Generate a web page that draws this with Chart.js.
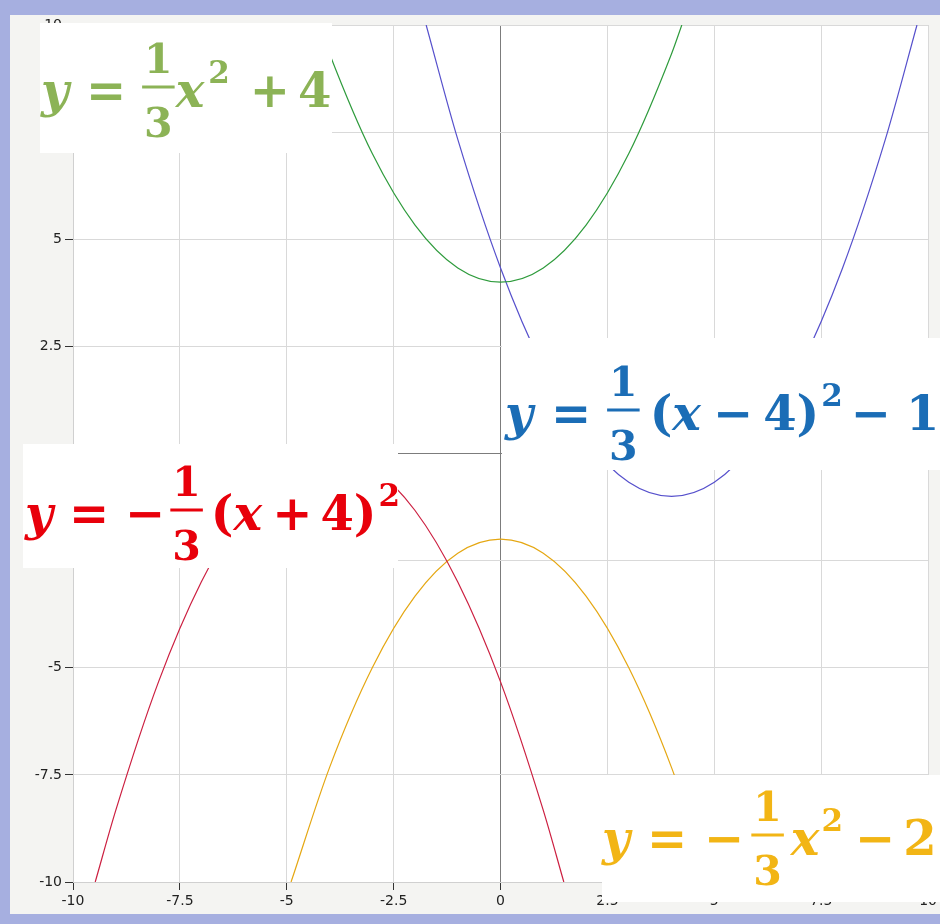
<!DOCTYPE html>
<html>
<head>
<meta charset="utf-8">
<script src="https://cdn.jsdelivr.net/npm/chart.js@4.4.0/dist/chart.umd.min.js"></script>
<style>
  html, body { margin: 0; padding: 0; background: #a6afe0; }
  #c { display: block; }
</style>
</head>
<body>
<canvas id="c" width="940" height="924"></canvas>
<script>
// axis ticks
var tickValues = [-10, -7.5, -5, -2.5, 0, 2.5, 5, 7.5, 10];
var tickLabels = ['-10', '-7.5', '-5', '-2.5', '0', '2.5', '5', '7.5', '10'];

// y = 1/3 x^2 + 4  (green)
var greenX = [-4.24, -4, -3, -2, -1, 0, 1, 2, 3, 4, 4.24];
var greenY = [10, 9.33, 7, 5.33, 4.33, 4, 4.33, 5.33, 7, 9.33, 10];

// y = 1/3 (x-4)^2 - 1  (blue)
var blueX = [-1.74, -1, 0, 1, 2, 3, 4, 5, 6, 7, 8, 9, 9.74];
var blueY = [10, 7.33, 4.33, 2, 0.33, -0.67, -1, -0.67, 0.33, 2, 4.33, 7.33, 10];

// y = -1/3 (x+4)^2  (red)
var redX = [-9.48, -9, -8, -7, -6, -5, -4, -3, -2, -1, 0, 1, 1.48];
var redY = [-10, -8.33, -5.33, -3, -1.33, -0.33, 0, -0.33, -1.33, -3, -5.33, -8.33, -10];

// y = -1/3 x^2 - 2  (orange)
var orangeX = [-4.9, -4, -3, -2, -1, 0, 1, 2, 3, 4, 4.9];
var orangeY = [-10, -7.33, -5, -3.33, -2.33, -2, -2.33, -3.33, -5, -7.33, -10];

function pts(xs, ys) {
    return xs.map(function (x, i) { return { x: x, y: ys[i] }; });
}

function curve(xs, ys, color) {
    return {
        data: pts(xs, ys),
        showLine: true,
        borderColor: color,
        borderWidth: 1.2,
        pointRadius: 0,
        fill: false,
        cubicInterpolationMode: 'monotone'
    };
}

// formula labels: i = italic, t = upright, f = fraction, s = superscript, g = gap
var MINUS = '\u2212';
var formulas = [
    { color: '#8cb356', box: [40, 23, 292, 130], x: 41, base: 107,
      parts: [['i', 'y'], ['g', 17], ['t', '='], ['g', 16], ['f', '1', '3'], ['g', 1], ['i', 'x'], ['g', 2], ['s', '2'],
              ['g', 20], ['t', '+'], ['g', 8], ['t', '4']] },
    { color: '#1b6db6', box: [502, 338, 438, 132], x: 505, base: 430,
      parts: [['i', 'y'], ['g', 18], ['t', '='], ['g', 16], ['f', '1', '3'], ['g', 10], ['t', '('], ['i', 'x'],
              ['g', 12], ['t', MINUS], ['g', 10], ['t', '4'], ['t', ')'], ['s', '2'], ['g', 8], ['t', MINUS], ['g', 15], ['t', '1']] },
    { color: '#e8000b', box: [23, 444, 375, 124], x: 25, base: 530,
      parts: [['i', 'y'], ['g', 16], ['t', '='], ['g', 16], ['t', MINUS], ['g', 5], ['f', '1', '3'], ['g', 8], ['t', '('], ['i', 'x'],
              ['g', 10], ['t', '+'], ['g', 8], ['t', '4'], ['t', ')'], ['s', '2']] },
    { color: '#f2b515', box: [602, 775, 338, 127], x: 602, base: 855,
      parts: [['i', 'y'], ['g', 17], ['t', '='], ['g', 17], ['t', MINUS], ['g', 7], ['f', '1', '3'], ['g', 7], ['i', 'x'], ['s', '2'],
              ['g', 12], ['t', MINUS], ['g', 8], ['t', '2']] }
];

var FONT = '"DejaVu Serif"';

function drawFormula(c, f) {
    var x = f.x, base = f.base;
    c.fillStyle = '#ffffff';
    c.fillRect(f.box[0], f.box[1], f.box[2], f.box[3]);
    c.fillStyle = f.color;
    c.textAlign = 'left';
    c.textBaseline = 'alphabetic';
    f.parts.forEach(function (p) {
        if (p[0] === 'g') { x += p[1]; return; }
        if (p[0] === 'f') {
            c.font = 'bold 41px ' + FONT;
            var wn = c.measureText(p[1]).width, wd = c.measureText(p[2]).width;
            var w = Math.max(wn, wd) + 4;
            var bar = base - 20;
            c.fillRect(x, bar - 1.5, w, 3);
            c.fillText(p[1], x + (w - wn) / 2, bar - 14);
            c.fillText(p[2], x + (w - wd) / 2, bar + 50);
            x += w;
            return;
        }
        if (p[0] === 's') {
            c.font = 'bold 31px ' + FONT;
            c.fillText(p[1], x + 2, base - 24);
            x += c.measureText(p[1]).width + 2;
            return;
        }
        c.font = (p[0] === 'i' ? 'italic bold ' : 'bold ') + '48px ' + FONT;
        c.fillText(p[1], x, base);
        x += c.measureText(p[1]).width;
    });
}

var backdrop = {
    id: 'backdrop',
    beforeDraw: function (chart) {
        var c = chart.ctx, a = chart.chartArea;
        c.save();
        c.fillStyle = '#f4f4f2';
        c.fillRect(10, 15, 930, 899);
        c.fillStyle = '#ffffff';
        c.fillRect(a.left, a.top, a.right - a.left, a.bottom - a.top);
        c.restore();
    },
    afterDraw: function (chart) {
        var c = chart.ctx;
        c.save();
        formulas.forEach(function (f) { drawFormula(c, f); });
        c.restore();
    }
};

function gridColor(ctx) {
    return ctx.tick && ctx.tick.value === 0 ? '#7c7c7c' : '#d9d9d9';
}

function axis(isX) {
    return {
        type: 'linear',
        min: -10,
        max: 10,
        afterBuildTicks: function (s) {
            s.ticks = tickValues.map(function (v) { return { value: v }; });
        },
        afterFit: function (s) {
            if (isX) { s.height = 32; } else { s.width = 63; }
        },
        grid: {
            color: gridColor,
            lineWidth: 1,
            drawTicks: true,
            tickLength: 8,
            tickColor: '#333333'
        },
        border: { color: '#d0d0d0' },
        ticks: {
            autoSkip: false,
            maxRotation: 0,
            padding: 3,
            color: '#222222',
            font: { family: 'DejaVu Sans', size: 14 },
            callback: function (v, i) { return tickLabels[i]; }
        }
    };
}

new Chart(document.getElementById('c').getContext('2d'), {
    type: 'scatter',
    data: {
        datasets: [
            curve(greenX, greenY, '#2e9b3c'),
            curve(blueX, blueY, '#5650cc'),
            curve(redX, redY, '#cc1f40'),
            curve(orangeX, orangeY, '#e5a712')
        ]
    },
    options: {
        responsive: false,
        animation: false,
        layout: { padding: { left: 10, right: 10, top: 25, bottom: 10 } },
        plugins: { legend: { display: false }, tooltip: { enabled: false } },
        scales: { x: axis(true), y: axis(false) }
    },
    plugins: [backdrop]
});
</script>
</body>
</html>
